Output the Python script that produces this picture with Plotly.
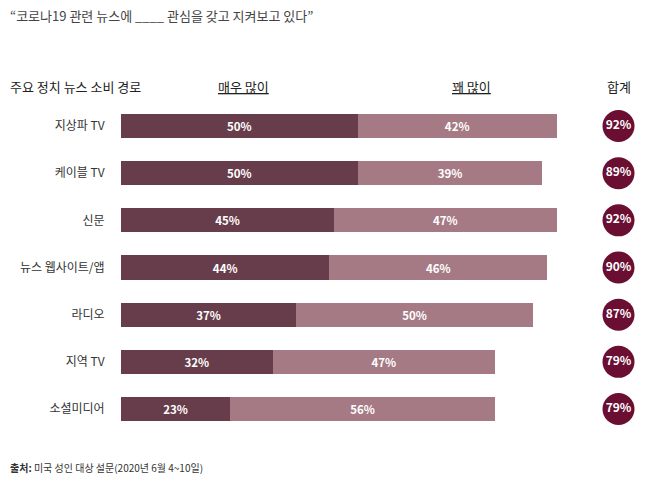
import plotly.graph_objects as go

categories = ["지상파 TV", "케이블 TV", "신문", "뉴스 웹사이트/앱", "라디오", "지역 TV", "소셜미디어"]
very_much = [50, 50, 45, 44, 37, 32, 23]
quite_much = [42, 39, 47, 46, 50, 47, 56]
totals = [92, 89, 92, 90, 87, 79, 79]

title_text = "“코로나19 관련 뉴스에 ____ 관심을 갖고 지켜보고 있다”"
col_label = "주요 정치 뉴스 소비 경로"
series_names = ["매우 많이", "꽤 많이"]
total_label = "합계"
source_text = "<b>출처:</b> 미국 성인 대상 설문(2020년 6월 4~10일)"

W, H = 666, 482
FONT = "Noto Sans CJK KR"
DARK = "#683D4B"
LIGHT = "#A67A85"
CIRCLE = "#6A0E32"

ML = 121
PX_PER_PCT = 4.735
idx = list(range(len(categories)))
total_col_x = (618.5 - ML) / PX_PER_PCT

fig = go.Figure()
fig.add_trace(go.Bar(
    y=idx, x=very_much, orientation="h", name=series_names[0],
    marker=dict(color=DARK, line=dict(width=0)),
    text=[f"{v}%" for v in very_much], textposition="inside",
    insidetextanchor="middle", textangle=0,
    textfont=dict(color="white", size=11.5, family=FONT, weight="bold"),
    width=0.51, hoverinfo="skip",
))
fig.add_trace(go.Bar(
    y=idx, x=quite_much, orientation="h", name=series_names[1],
    marker=dict(color=LIGHT, line=dict(width=0)),
    text=[f"{v}%" for v in quite_much], textposition="inside",
    insidetextanchor="middle", textangle=0,
    textfont=dict(color="white", size=11.5, family=FONT, weight="bold"),
    width=0.51, hoverinfo="skip",
))
fig.add_trace(go.Scatter(
    y=idx, x=[total_col_x] * len(idx), mode="markers+text",
    marker=dict(color=CIRCLE, size=32, line=dict(width=0)),
    text=[f"{v}%" for v in totals], textposition="middle center",
    textfont=dict(color="white", size=12, family=FONT, weight="bold"),
    hoverinfo="skip", cliponaxis=False,
))

plot_w = W - ML
x_max = plot_w / PX_PER_PCT
spacing = 47.17
r_top = -126 / spacing
r_bot = r_top + H / spacing

fig.update_layout(
    width=W, height=H,
    margin=dict(l=ML, r=0, t=0, b=0),
    paper_bgcolor="white", plot_bgcolor="white",
    barmode="stack", showlegend=False,
    font=dict(family=FONT, color="#333333", size=12),
    xaxis=dict(range=[0, x_max], visible=False, fixedrange=True),
    yaxis=dict(
        range=[r_bot, r_top], tickmode="array", tickvals=idx, ticktext=categories,
        showgrid=False, zeroline=False, showline=False,
        ticks="outside", ticklen=0, ticklabelstandoff=13,
        tickfont=dict(size=12, color="#333333", family=FONT), fixedrange=True,
    ),
)

def px(x):
    return (x - ML) / plot_w

def py(y):
    return 1 - y / H

annos = [
    dict(text=title_text, x=px(8), y=py(15), xanchor="left", yanchor="middle",
         font=dict(size=13, color="#444444", family=FONT)),
    dict(text=col_label, x=px(8), y=py(86), xanchor="left", yanchor="middle",
         font=dict(size=13, color="#222222", family=FONT)),
    dict(text=f"<u>{series_names[0]}</u>", x=px(243.5), y=py(86), xanchor="center", yanchor="middle",
         font=dict(size=13, color="#222222", family=FONT)),
    dict(text=f"<u>{series_names[1]}</u>", x=px(471), y=py(86), xanchor="center", yanchor="middle",
         font=dict(size=13, color="#222222", family=FONT)),
    dict(text=total_label, x=px(619), y=py(86), xanchor="center", yanchor="middle",
         font=dict(size=13, color="#222222", family=FONT)),
    dict(text=source_text, x=px(8), y=py(467), xanchor="left", yanchor="middle",
         font=dict(size=10, color="#333333", family=FONT)),
]
for a in annos:
    a.update(xref="paper", yref="paper", showarrow=False)
fig.update_layout(annotations=annos)

fig.write_html("out.html", config={"displayModeBar": False},
               post_script="document.body.style.margin='0';document.body.style.padding='0';")
